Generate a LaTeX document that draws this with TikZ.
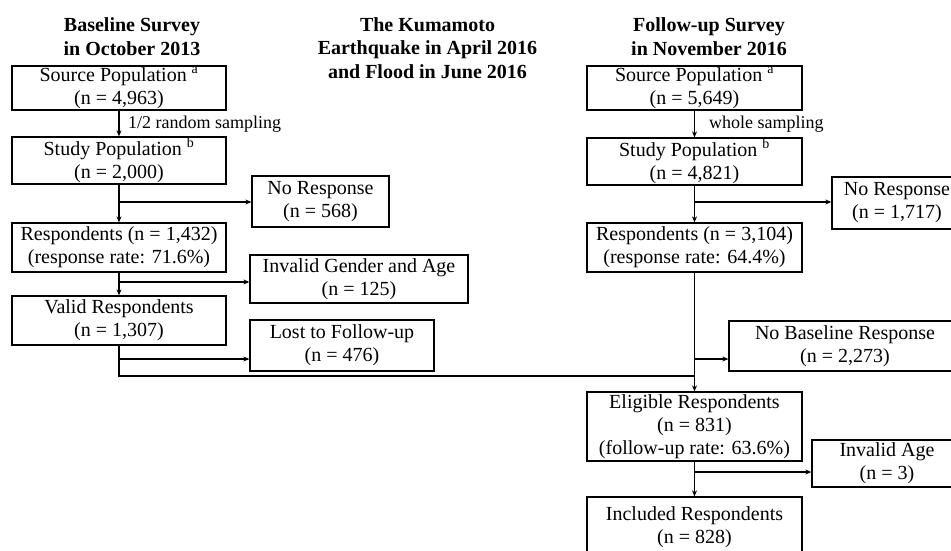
\documentclass[tikz,border=0pt]{standalone}
\usepackage{fontspec}
\setmainfont{Liberation Serif}
\usetikzlibrary{arrows.meta}
\begin{document}
\begin{tikzpicture}[x=1pt,y=-1pt,
  box/.style={draw=black,line width=1.3pt,rectangle,inner sep=0pt,align=center,
    font=\fontsize{20}{23}\selectfont},
  hdr/.style={align=center,font=\fontsize{20}{23.5}\selectfont\bfseries,inner sep=0pt},
  lbl/.style={anchor=west,font=\fontsize{18}{20}\selectfont,inner sep=0pt},
  ln/.style={line width=1.3pt},
  arr/.style={line width=1.3pt,-{Stealth[length=6pt,width=5pt]}}]
\clip (0,0) rectangle (951,551);
% headers
\node[hdr] (hA) at (132,36.5) {Baseline Survey\\in October 2013};
\node[hdr] (hM) at (427.5,48) {The Kumamoto\\Earthquake in April 2016\\and Flood in June 2016};
\node[hdr] (hB) at (709,36.5) {Follow-up Survey\\in November 2016};
% left column
\node[box,minimum width=214,minimum height=44] (srcA) at (119,88) {Source Population \textsuperscript{a}\\(n = 4,963)};
\node[box,minimum width=214,minimum height=47] (studyA) at (119,160.5) {Study Population \textsuperscript{b}\\(n = 2,000)};
\node[box,minimum width=137,minimum height=51] (noRespA) at (320.5,201.5) {No Response\\(n = 568)};
\node[box,minimum width=214,minimum height=49] (respA) at (119,247.5) {Respondents (n = 1,432)\\(response rate: 71.6\%)};
\node[box,minimum width=218,minimum height=48] (invGA) at (359,279) {Invalid Gender and Age\\(n = 125)};
\node[box,minimum width=214,minimum height=49] (validA) at (119,320.5) {Valid Respondents\\(n = 1,307)};
\node[box,minimum width=184,minimum height=51] (lost) at (342,345.5) {Lost to Follow-up\\(n = 476)};
% right column
\node[box,minimum width=215,minimum height=44] (srcB) at (694.5,88) {Source Population \textsuperscript{a}\\(n = 5,649)};
\node[box,minimum width=215,minimum height=47] (studyB) at (694.5,161.5) {Study Population \textsuperscript{b}\\(n = 4,821)};
\node[box,minimum width=130,minimum height=52] (noRespB) at (897,203) {No Response\\(n = 1,717)};
\node[box,minimum width=215,minimum height=49] (respB) at (694.5,247.5) {Respondents (n = 3,104)\\(response rate: 64.4\%)};
\node[box,minimum width=232,minimum height=50] (noBase) at (845,346) {No Baseline Response\\(n = 2,273)};
\node[box,minimum width=215,minimum height=69] (elig) at (694.5,426.5) {Eligible Respondents\\(n = 831)\\(follow-up rate: 63.6\%)};
\node[box,minimum width=150,minimum height=47] (invAge) at (887,463.5) {Invalid Age\\(n = 3)};
\node[box,minimum width=215,minimum height=60] (incl) at (694.5,527) {Included Respondents\\(n = 828)};
% labels
\node[lbl] (l1) at (128,124) {1/2 random sampling};
\node[lbl] (l2) at (709,124) {whole sampling};
% branch points
\coordinate (bA1) at (119,202);
\coordinate (bA2) at (119,282);
\coordinate (bA3) at (119,359);
\coordinate (bA4) at (119,376);
\coordinate (bB1) at (694.5,202);
\coordinate (bB2) at (694.5,359);
\coordinate (bB3) at (694.5,376);
\coordinate (bB4) at (694.5,472);
% left connectors
\draw[arr] (srcA) -- (studyA);
\draw[arr] (studyA) -- (respA);
\draw[arr] (bA1) -- (bA1 -| noRespA.west);
\draw[arr] (respA) -- (validA);
\draw[arr] (bA2) -- (bA2 -| invGA.west);
\draw[ln] (validA.south) -- (bA4) -- (bB3);
\draw[arr] (bA3) -- (bA3 -| lost.west);
% right connectors
\draw[arr] (srcB) -- (studyB);
\draw[arr] (studyB) -- (respB);
\draw[arr] (bB1) -- (bB1 -| noRespB.west);
\draw[arr] (respB) -- (elig);
\draw[arr] (bB2) -- (bB2 -| noBase.west);
\draw[arr] (elig) -- (incl);
\draw[arr] (bB4) -- (bB4 -| invAge.west);
\end{tikzpicture}
\end{document}
